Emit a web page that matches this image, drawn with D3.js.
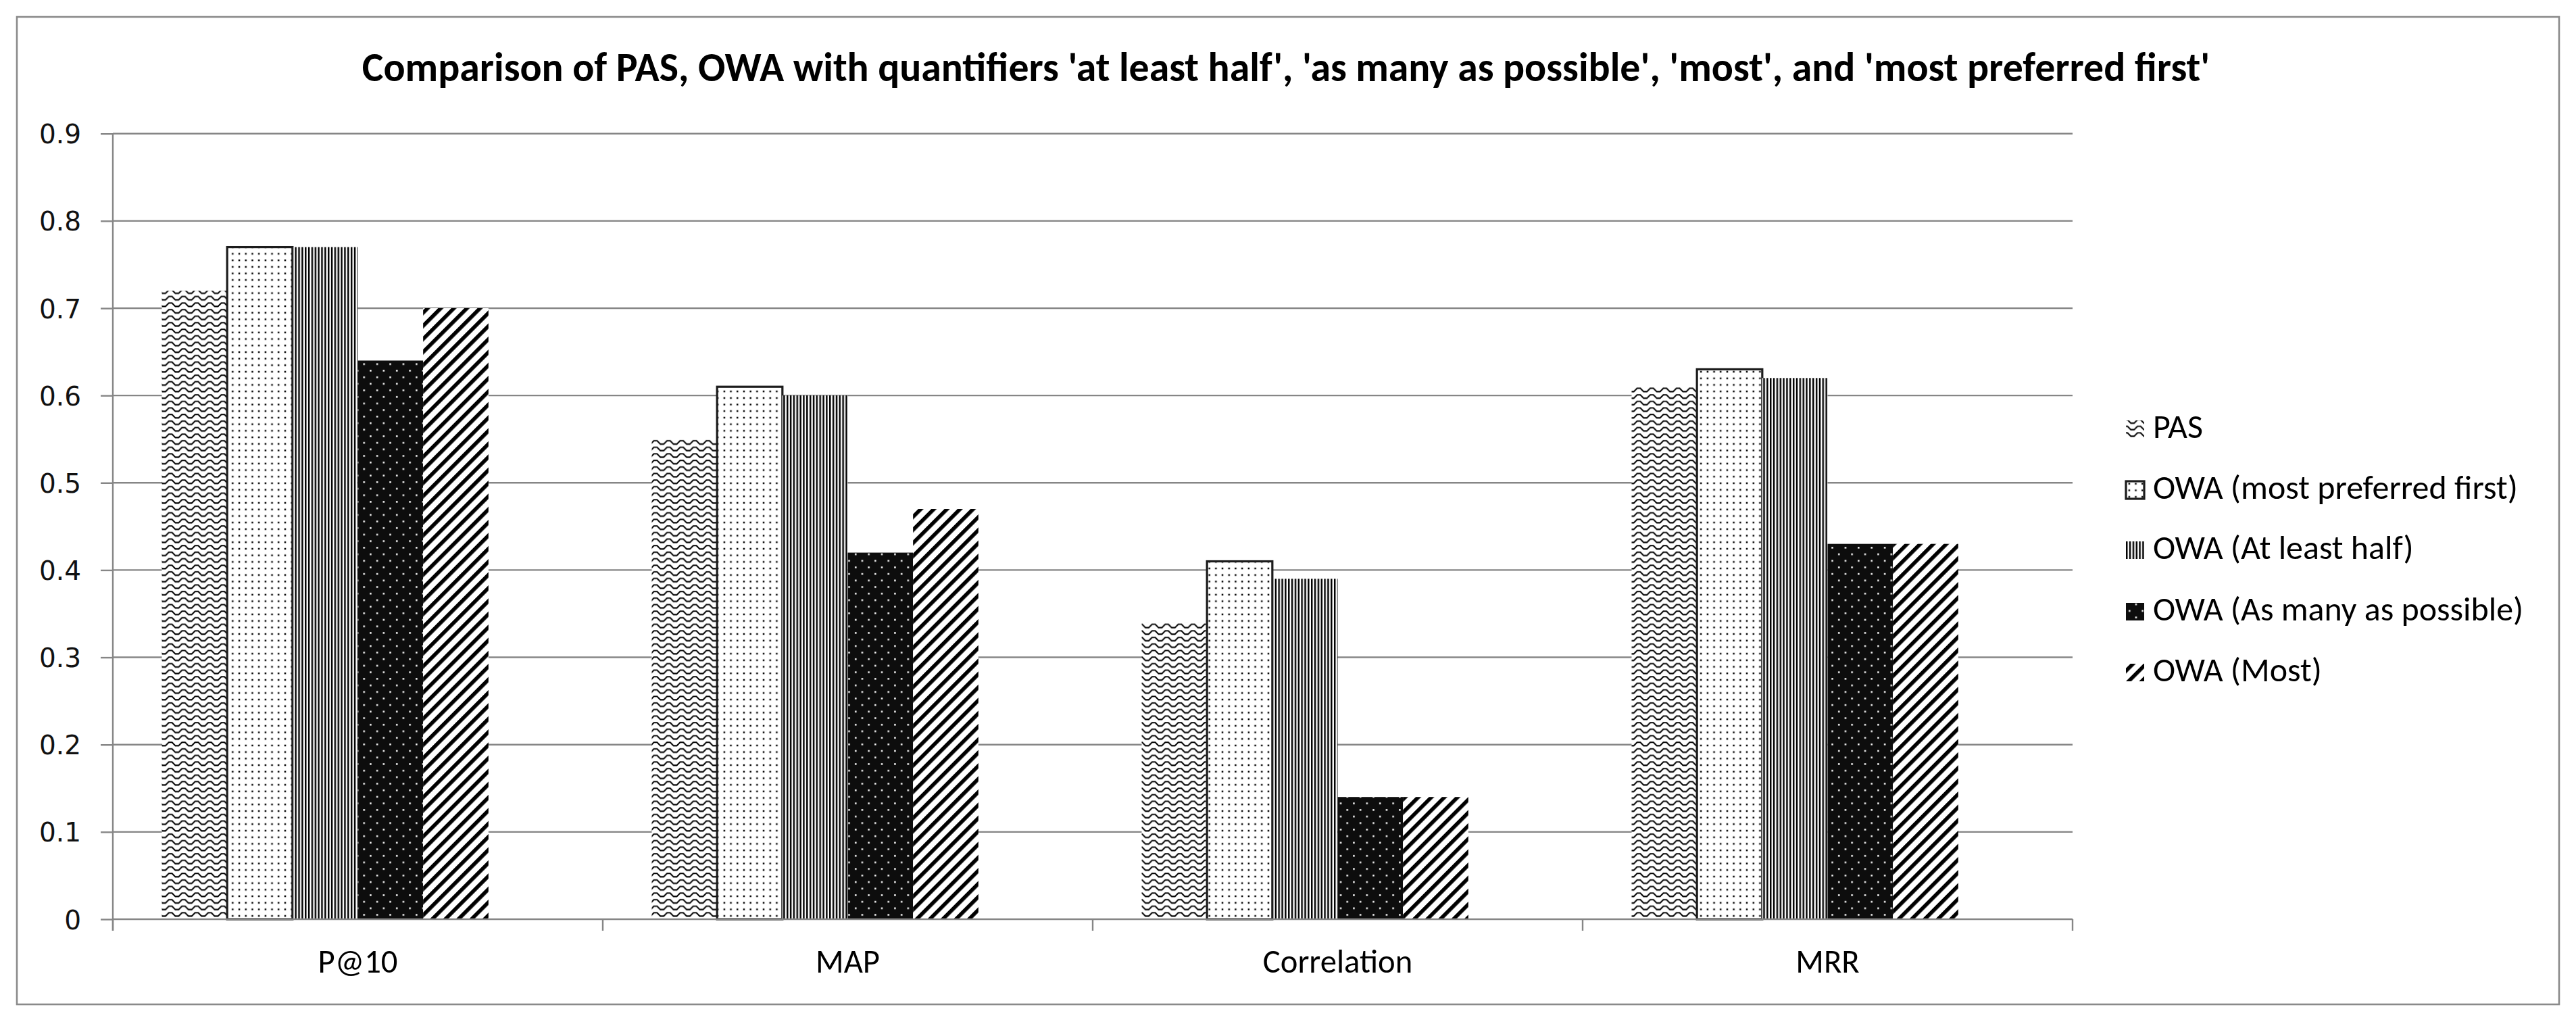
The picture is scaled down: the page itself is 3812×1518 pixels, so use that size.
<!DOCTYPE html>
<html>
<head>
<meta charset="utf-8">
<script src="https://cdn.jsdelivr.net/npm/d3@7"></script>
<style>
  html, body { margin: 0; padding: 0; background: #ffffff; }
  svg { display: block; }
</style>
</head>
<body>
<svg id="chart" width="3812" height="1518"></svg>
<script>
// ---------------- DATA ----------------
const titleText = "Comparison of PAS, OWA with quantifiers 'at least half', 'as many as possible', 'most', and 'most preferred first'";
const categories = ["P@10", "MAP", "Correlation", "MRR"];
const seriesNames = ["PAS", "OWA (most preferred first)", "OWA (At least half)", "OWA (As many as possible)", "OWA (Most)"];
const pasValues              = [0.72, 0.55, 0.34, 0.61];
const owaMostPreferredFirst  = [0.77, 0.61, 0.41, 0.63];
const owaAtLeastHalf         = [0.77, 0.60, 0.39, 0.62];
const owaAsManyAsPossible    = [0.64, 0.42, 0.14, 0.43];
const owaMost                = [0.70, 0.47, 0.14, 0.43];
const yTickValues = [0, 0.1, 0.2, 0.3, 0.4, 0.5, 0.6, 0.7, 0.8, 0.9];

const seriesValues = [pasValues, owaMostPreferredFirst, owaAtLeastHalf, owaAsManyAsPossible, owaMost];
const series = seriesNames.map((name, i) => ({ name, idx: i, values: seriesValues[i] }));

// ---------------- LAYOUT ----------------
const W = 3812, H = 1518;
const plot = { left: 167, right: 3067, top: 197.7, bottom: 1360 };
const gridColor = "#868686";
const calibriLike = "Carlito, Calibri, Lato, 'Open Sans', sans-serif";

const svg = d3.select("#chart");
svg.append("rect").attr("width", W).attr("height", H).attr("fill", "#fff");

// ---------- patterns ----------
const defs = svg.append("defs");
// 0: wave (PAS)
const pWave = defs.append("pattern").attr("id", "pat0").attr("patternUnits", "userSpaceOnUse")
  .attr("width", 19.4).attr("height", 9.7);
pWave.append("rect").attr("width", 19.4).attr("height", 9.7).attr("fill", "#fff");
pWave.append("path").attr("d", "M-1,2.2 L2.4,2.2 L7.3,7.2 L12.1,7.2 L17,2.2 L20.4,2.2")
  .attr("fill", "none").attr("stroke", "#000").attr("stroke-width", 2.1);
// 1: small dots on white (most preferred first)
const pDots = defs.append("pattern").attr("id", "pat1").attr("patternUnits", "userSpaceOnUse")
  .attr("width", 9.7).attr("height", 9.7).attr("x", 0).attr("y", 2);
pDots.append("rect").attr("width", 9.7).attr("height", 9.7).attr("fill", "#fff");
pDots.append("rect").attr("x", 3.6).attr("y", 3.6).attr("width", 2.5).attr("height", 2.5).attr("fill", "#000");
// 2: narrow vertical lines (at least half)
const pV = defs.append("pattern").attr("id", "pat2").attr("patternUnits", "userSpaceOnUse")
  .attr("width", 4.85).attr("height", 10);
pV.append("rect").attr("width", 4.85).attr("height", 10).attr("fill", "#fff");
pV.append("rect").attr("x", 0).attr("width", 2.45).attr("height", 10).attr("fill", "#000");
// 3: white dots on black (as many as possible)
const pInv = defs.append("pattern").attr("id", "pat3").attr("patternUnits", "userSpaceOnUse")
  .attr("width", 19.4).attr("height", 19.4);
pInv.append("rect").attr("width", 19.4).attr("height", 19.4).attr("fill", "#0d0d0d");
pInv.append("rect").attr("x", 4).attr("y", 4).attr("width", 2.5).attr("height", 2.5).attr("fill", "#fff");
pInv.append("rect").attr("x", 13.7).attr("y", 13.7).attr("width", 2.5).attr("height", 2.5).attr("fill", "#fff");
// 4: wide upward diagonal (most)
const pD = defs.append("pattern").attr("id", "pat4").attr("patternUnits", "userSpaceOnUse")
  .attr("width", 13.7).attr("height", 13.7).attr("patternTransform", "rotate(45)");
pD.append("rect").attr("width", 13.7).attr("height", 13.7).attr("fill", "#fff");
pD.append("rect").attr("x", 0).attr("width", 5.6).attr("height", 13.7).attr("fill", "#000");

// ---------- outer border ----------
svg.append("rect").attr("x", 25).attr("y", 25).attr("width", 3762).attr("height", 1461)
  .attr("fill", "none").attr("stroke", "#8a8a8a").attr("stroke-width", 2.6);

// ---------- scales ----------
const x0 = d3.scaleBand().domain(categories).range([plot.left, plot.right])
  .paddingInner(0.2).paddingOuter(0.1);
// the original chart reserves a sixth (empty) series slot in every cluster
const x1 = d3.scaleBand().domain([...seriesNames, "__empty__"]).range([0, x0.bandwidth()]);
const y = d3.scaleLinear().domain([0, 0.9]).range([plot.bottom, plot.top]);

// ---------- gridlines ----------
svg.append("g").selectAll("line").data(yTickValues.filter(d => d > 0)).join("line")
  .attr("x1", plot.left).attr("x2", plot.right)
  .attr("y1", d => y(d)).attr("y2", d => y(d))
  .attr("stroke", gridColor).attr("stroke-width", 2.4);

// ---------- y axis ----------
const yAxis = svg.append("g").attr("transform", `translate(${plot.left},0)`)
  .call(d3.axisLeft(y).tickValues(yTickValues).tickSize(18).tickPadding(29)
    .tickFormat(d => d === 0 ? "0" : d3.format(".1f")(d)));
yAxis.select(".domain").remove();
yAxis.selectAll(".tick line").attr("stroke", gridColor).attr("stroke-width", 2.4);
yAxis.selectAll(".tick text").attr("font-family", "'DejaVu Sans', Verdana, sans-serif")
  .attr("font-size", 39).attr("fill", "#111").attr("dy", "0.36em");
svg.append("line").attr("x1", plot.left).attr("x2", plot.left)
  .attr("y1", plot.top).attr("y2", plot.bottom + 17)
  .attr("stroke", gridColor).attr("stroke-width", 2.4);

// ---------- bars ----------
const gBars = svg.append("g");
series.forEach(s => {
  gBars.append("g").selectAll("rect").data(categories.map((c, j) => ({ c, v: s.values[j] }))).join("rect")
    .attr("x", d => x0(d.c) + x1(s.name))
    .attr("y", d => y(d.v))
    .attr("width", x1.bandwidth())
    .attr("height", d => y(0) - y(d.v))
    .attr("fill", `url(#pat${s.idx})`)
    .attr("stroke", s.idx === 1 ? "#1c1c1c" : "none")
    .attr("stroke-width", s.idx === 1 ? 3.2 : 0);
});

// ---------- x axis ----------
svg.append("line").attr("x1", plot.left).attr("x2", plot.right)
  .attr("y1", plot.bottom).attr("y2", plot.bottom)
  .attr("stroke", gridColor).attr("stroke-width", 2.4);
const boundaries = categories.map(c => x0(c) - x0.step() * x0.paddingOuter());
boundaries.push(plot.right);
svg.append("g").selectAll("line").data(boundaries).join("line")
  .attr("x1", d => d).attr("x2", d => d)
  .attr("y1", plot.bottom).attr("y2", plot.bottom + 17)
  .attr("stroke", gridColor).attr("stroke-width", 2.4);

const xAxis = svg.append("g").attr("transform", `translate(0,${plot.bottom})`)
  .call(d3.axisBottom(x0).tickSize(0).tickPadding(0));
xAxis.select(".domain").remove();
const xLabels = xAxis.selectAll(".tick text")
  .attr("font-family", calibriLike).attr("font-size", 46).attr("fill", "#000")
  .attr("y", 79).attr("dy", 0);
// fit the label font so "P@10" is as wide as in the reference
{
  const n = xLabels.filter(d => d === "P@10").node();
  const w = n.getComputedTextLength();
  xLabels.attr("font-size", 46 * 118 / w);
}

// ---------- title ----------
const title = svg.append("text").attr("x", 1903).attr("y", 120).attr("text-anchor", "middle")
  .attr("font-family", calibriLike).attr("font-weight", "bold").attr("font-size", 58)
  .attr("fill", "#000").text(titleText);
{
  const w = title.node().getComputedTextLength();
  title.attr("font-size", 58 * 2735 / w);
}

// ---------- legend ----------
const legendRows = [648, 738, 827, 918, 1008];
const lg = svg.append("g");
const items = lg.selectAll("g").data(series).join("g")
  .attr("transform", (d, i) => `translate(3146,${legendRows[i]})`);
items.append("rect").attr("x", 0).attr("y", -26).attr("width", 27).attr("height", 26)
  .attr("fill", d => `url(#pat${d.idx})`)
  .attr("stroke", d => d.idx === 1 ? "#1c1c1c" : "none")
  .attr("stroke-width", d => d.idx === 1 ? 3.2 : 0);
const legTexts = items.append("text").attr("x", 40).attr("y", 0)
  .attr("font-family", calibriLike).attr("font-size", 40).attr("fill", "#000")
  .text(d => d.name);
{
  const n = legTexts.filter(d => d.idx === 1).node();
  const w = n.getComputedTextLength();
  legTexts.attr("font-size", 40 * 540 / w);
}
</script>
</body>
</html>
